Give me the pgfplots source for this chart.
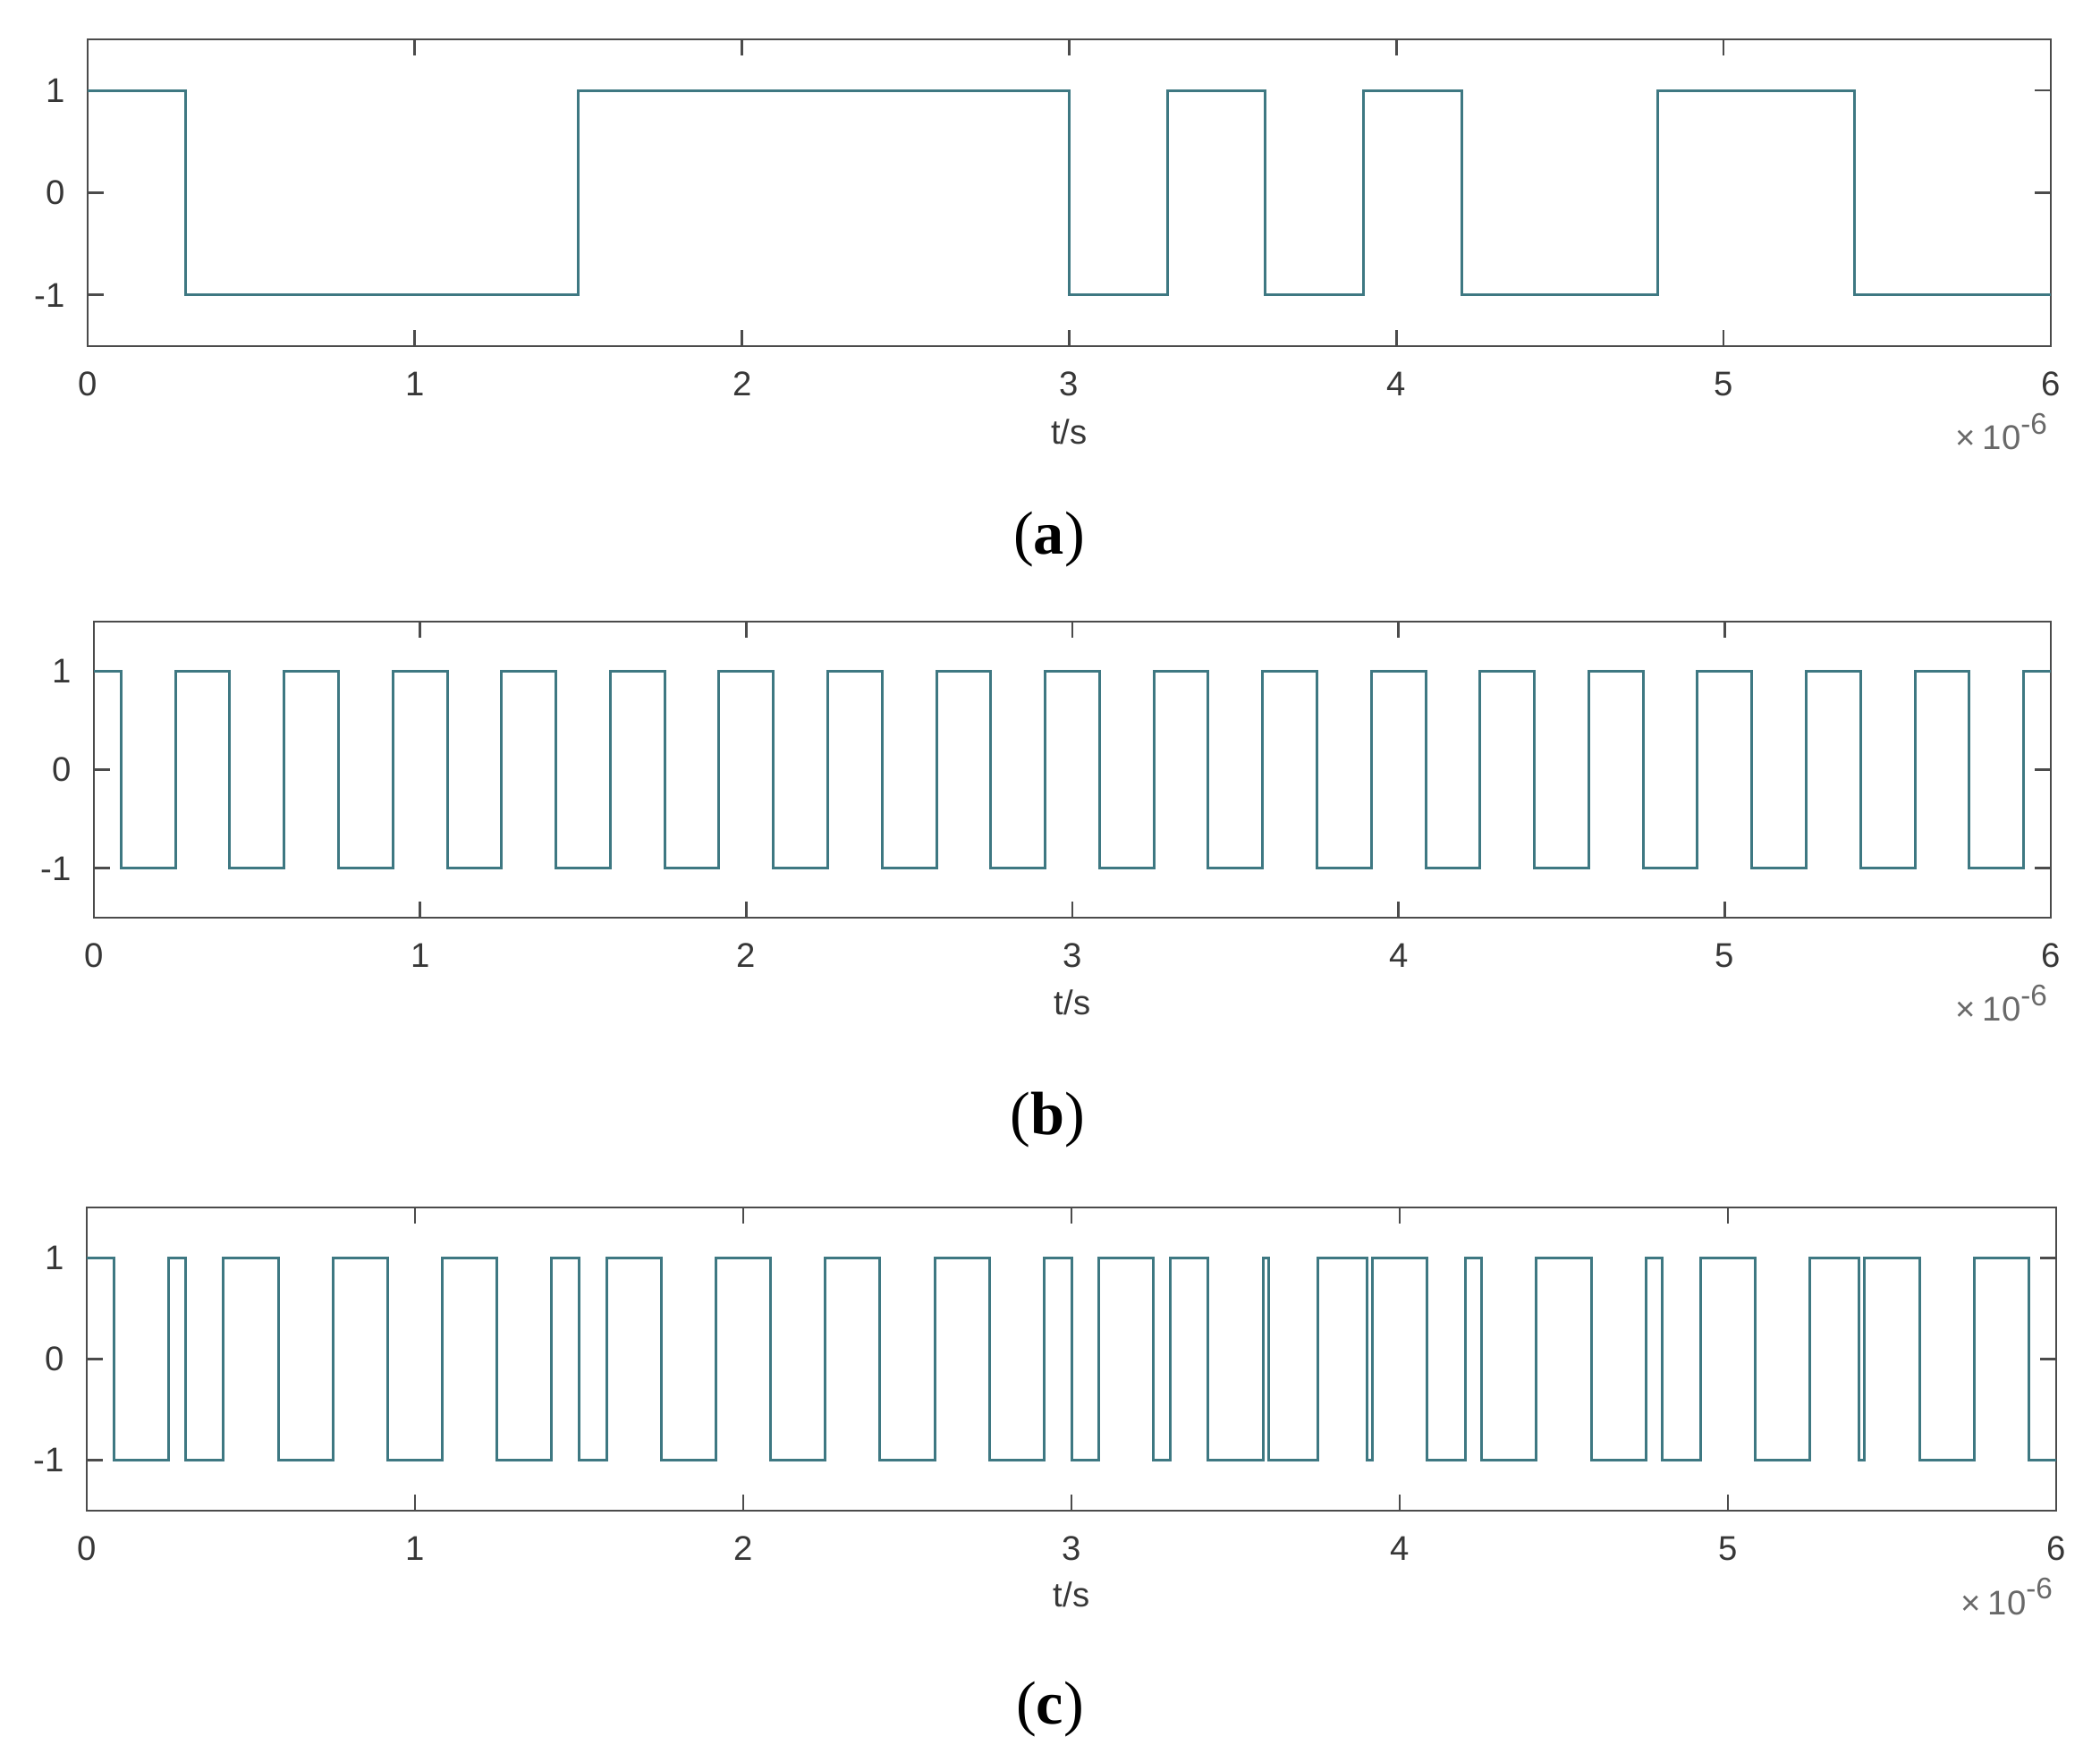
\documentclass[border=0pt]{standalone}
\usepackage{fontspec}
\setmainfont{Liberation Sans}
\newfontfamily\capfont{Liberation Serif}
\usepackage{pgfplots}
\pgfplotsset{compat=1.18}

\definecolor{sig}{RGB}{62,120,130}
\definecolor{axgray}{RGB}{75,75,75}
\definecolor{lblgray}{RGB}{55,55,55}

\pgfplotsset{
  wave/.style={
    scale only axis, anchor=north west, clip mode=individual,
    xmin=0, xmax=6, ymin=-1.5, ymax=1.5,
    xtick={0,1,2,3,4,5,6}, xticklabels={0,1,2,3,4,5,6},
    ytick={-1,0,1}, yticklabels={-1,0,1},
    tick align=inside, major tick length=5.4pt,
    axis line style={axgray, line width=0.8pt},
    tick style={axgray, line width=0.8pt},
    tick label style={font=\fontsize{11.5}{13}\selectfont, text=lblgray, inner sep=0pt},
    xticklabel shift=8.5pt, yticklabel shift=7.5pt,
  },
  sq/.style={const plot, sig, line width=0.9pt},
}
\newcommand\lbl{\fontsize{11.5}{13}\selectfont}
\newcommand\expo{×\hspace{2.5pt}10\raisebox{5.2pt}{\fontsize{10}{11}\selectfont -6}}

\begin{document}
\begin{tikzpicture}
\path[use as bounding box] (0,0) rectangle (704.4pt,-591pt);

% (a) data bits
\begin{axis}[wave, at={(29.4pt,-13.2pt)}, width=658.5pt, height=102.9pt]
\addplot[sq] coordinates {
  (0,1) (0.3,-1) (1.5,1) (3.0,-1) (3.3,1) (3.6,-1) (3.9,1)
  (4.2,-1) (4.8,1) (5.4,-1) (6,-1)
};
\node[font=\lbl, text=lblgray] at (rel axis cs:0.5,0) [yshift=-28.8pt] {t/s};
\node[font=\lbl, text=lblgray!75, anchor=base east, inner sep=0pt] at (rel axis cs:1,0) [yshift=-34.8pt, xshift=-1pt] {\expo};
\end{axis}

% (b) carrier / code
\begin{axis}[wave, at={(31.5pt,-208.5pt)}, width=656.4pt, height=99.3pt]
\addplot[sq] coordinates {
  (0,1) (0.0833,-1) (0.25,1) (0.4167,-1) (0.5833,1) (0.75,-1) (0.9167,1)
  (1.0833,-1) (1.25,1) (1.4167,-1) (1.5833,1) (1.75,-1) (1.9167,1)
  (2.0833,-1) (2.25,1) (2.4167,-1) (2.5833,1) (2.75,-1) (2.9167,1)
  (3.0833,-1) (3.25,1) (3.4167,-1) (3.5833,1) (3.75,-1) (3.9167,1)
  (4.0833,-1) (4.25,1) (4.4167,-1) (4.5833,1) (4.75,-1) (4.9167,1)
  (5.0833,-1) (5.25,1) (5.4167,-1) (5.5833,1) (5.75,-1) (5.9167,1) (6,1)
};
\node[font=\lbl, text=lblgray] at (rel axis cs:0.5,0) [yshift=-28.3pt] {t/s};
\node[font=\lbl, text=lblgray!75, anchor=base east, inner sep=0pt] at (rel axis cs:1,0) [yshift=-34.8pt, xshift=-1pt] {\expo};
\end{axis}

% (c) product signal
\begin{axis}[wave, at={(29.1pt,-405pt)}, width=660.6pt, height=101.7pt]
\addplot[sq] coordinates {
  (0,1) (0.0833,-1) (0.25,1) (0.3,-1) (0.4167,1) (0.5833,-1) (0.75,1)
  (0.9167,-1) (1.0833,1) (1.25,-1) (1.4167,1) (1.5,-1) (1.5833,1)
  (1.75,-1) (1.9167,1) (2.0833,-1) (2.25,1) (2.4167,-1) (2.5833,1)
  (2.75,-1) (2.9167,1) (3.0,-1) (3.0833,1) (3.25,-1) (3.3,1)
  (3.4167,-1) (3.5833,1) (3.6,-1) (3.75,1) (3.9,-1) (3.9167,1)
  (4.0833,-1) (4.2,1) (4.25,-1) (4.4167,1) (4.5833,-1) (4.75,1)
  (4.8,-1) (4.9167,1) (5.0833,-1) (5.25,1) (5.4,-1) (5.4167,1)
  (5.5833,-1) (5.75,1) (5.9167,-1) (6,-1)
};
\node[font=\lbl, text=lblgray] at (rel axis cs:0.5,0) [yshift=-28pt] {t/s};
\node[font=\lbl, text=lblgray!75, anchor=base east, inner sep=0pt] at (rel axis cs:1,0) [yshift=-34.8pt, xshift=-1pt] {\expo};
\end{axis}

% captions
\node[font=\capfont\fontsize{20.5}{24}\selectfont] at (351.9pt,-180.9pt) {(\textbf{a})};
\node[font=\capfont\fontsize{20.5}{24}\selectfont] at (351.3pt,-375.6pt) {(\textbf{b})};
\node[font=\capfont\fontsize{20.5}{24}\selectfont] at (352.2pt,-573.3pt) {(\textbf{c})};
\end{tikzpicture}
\end{document}
